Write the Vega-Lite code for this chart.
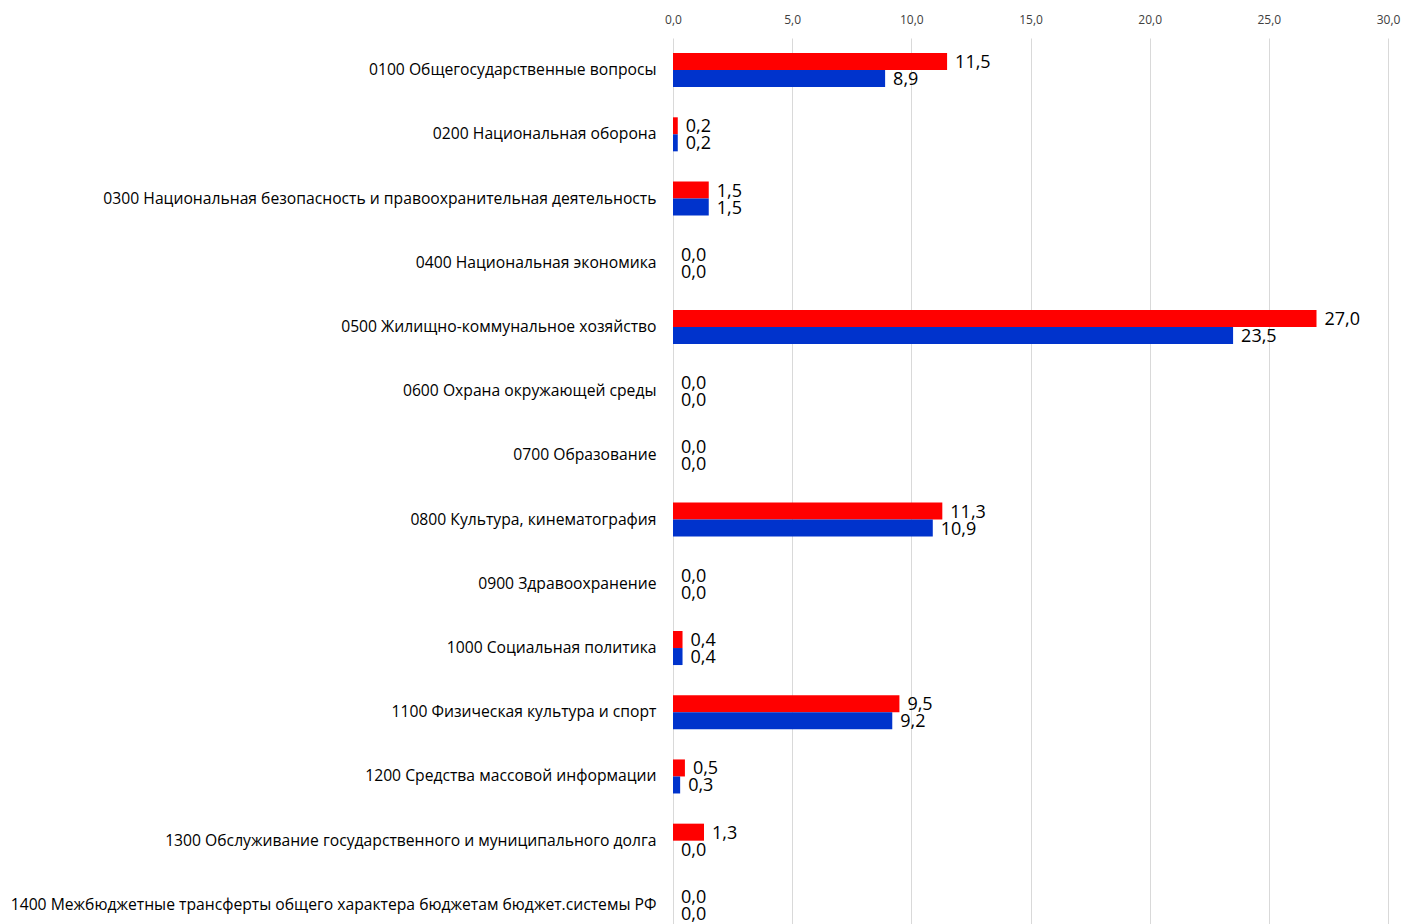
{
  "$schema": "https://vega.github.io/schema/vega-lite/v6.json",
  "autosize": "none",
  "width": 715,
  "height": 899,
  "padding": {"left": 673, "top": 38, "right": 17, "bottom": 0},
  "background": "white",
  "config": {
    "locale": {"number": {"decimal": ",", "thousands": " ", "grouping": [3], "currency": ["", ""]}},
    "view": {"stroke": null},
    "font": "Open Sans"
  },
  "data": {
    "values": [
      {"cat": "0100 Общегосударственные вопросы", "series": "ряд 1", "value": 11.5},
      {"cat": "0100 Общегосударственные вопросы", "series": "ряд 2", "value": 8.9},
      {"cat": "0200 Национальная оборона", "series": "ряд 1", "value": 0.2},
      {"cat": "0200 Национальная оборона", "series": "ряд 2", "value": 0.2},
      {"cat": "0300 Национальная безопасность и правоохранительная деятельность", "series": "ряд 1", "value": 1.5},
      {"cat": "0300 Национальная безопасность и правоохранительная деятельность", "series": "ряд 2", "value": 1.5},
      {"cat": "0400 Национальная экономика", "series": "ряд 1", "value": 0},
      {"cat": "0400 Национальная экономика", "series": "ряд 2", "value": 0},
      {"cat": "0500 Жилищно-коммунальное хозяйство", "series": "ряд 1", "value": 27.0},
      {"cat": "0500 Жилищно-коммунальное хозяйство", "series": "ряд 2", "value": 23.5},
      {"cat": "0600 Охрана окружающей среды", "series": "ряд 1", "value": 0},
      {"cat": "0600 Охрана окружающей среды", "series": "ряд 2", "value": 0},
      {"cat": "0700 Образование", "series": "ряд 1", "value": 0},
      {"cat": "0700 Образование", "series": "ряд 2", "value": 0},
      {"cat": "0800 Культура, кинематография", "series": "ряд 1", "value": 11.3},
      {"cat": "0800 Культура, кинематография", "series": "ряд 2", "value": 10.9},
      {"cat": "0900 Здравоохранение", "series": "ряд 1", "value": 0},
      {"cat": "0900 Здравоохранение", "series": "ряд 2", "value": 0},
      {"cat": "1000 Социальная политика", "series": "ряд 1", "value": 0.4},
      {"cat": "1000 Социальная политика", "series": "ряд 2", "value": 0.4},
      {"cat": "1100 Физическая культура и спорт", "series": "ряд 1", "value": 9.5},
      {"cat": "1100 Физическая культура и спорт", "series": "ряд 2", "value": 9.2},
      {"cat": "1200 Средства массовой информации", "series": "ряд 1", "value": 0.5},
      {"cat": "1200 Средства массовой информации", "series": "ряд 2", "value": 0.3},
      {"cat": "1300 Обслуживание государственного и муниципального долга", "series": "ряд 1", "value": 1.3},
      {"cat": "1300 Обслуживание государственного и муниципального долга", "series": "ряд 2", "value": 0},
      {"cat": "1400 Межбюджетные трансферты общего характера бюджетам бюджет.системы РФ", "series": "ряд 1", "value": 0},
      {"cat": "1400 Межбюджетные трансферты общего характера бюджетам бюджет.системы РФ", "series": "ряд 2", "value": 0}
    ]
  },
  "encoding": {
    "y": {
      "field": "cat", "type": "nominal", "sort": null,
      "scale": {"paddingInner": 0.47, "paddingOuter": 0.235},
      "axis": {"title": null, "domain": false, "ticks": false, "labelPadding": 17, "labelFontSize": 15.7, "labelColor": "#000000", "labelLimit": 700}
    },
    "yOffset": {"field": "series", "type": "nominal", "sort": ["ряд 1", "ряд 2"], "scale": {"paddingInner": 0, "paddingOuter": 0}},
    "x": {
      "field": "value", "type": "quantitative",
      "scale": {"domain": [0, 30], "nice": false, "zero": true},
      "axis": {"orient": "top", "title": null, "values": [0, 5, 10, 15, 20, 25, 30], "format": ".1f", "domain": false, "ticks": false, "labelPadding": 12, "labelFontSize": 12, "labelColor": "#404040", "gridColor": "#d9d9d9", "gridWidth": 1, "labelFlush": false}
    }
  },
  "layer": [
    {
      "mark": {"type": "bar"},
      "encoding": {
        "color": {"field": "series", "type": "nominal", "scale": {"domain": ["ряд 1", "ряд 2"], "range": ["#ff0000", "#0033cc"]}, "legend": null}
      }
    },
    {
      "mark": {"type": "text", "align": "left", "baseline": "middle", "dx": 8, "dy": 1.5, "fontSize": 18, "color": "#000000"},
      "encoding": {
        "text": {"field": "value", "type": "quantitative", "format": ".1f"}
      }
    }
  ]
}
